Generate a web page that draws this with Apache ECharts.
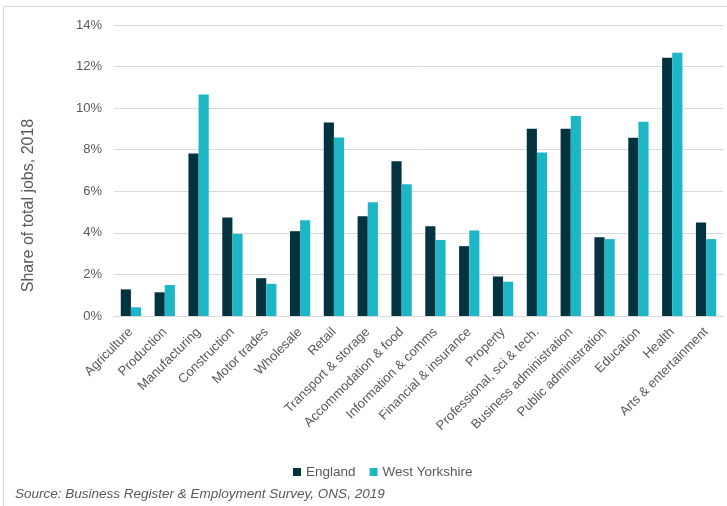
<!DOCTYPE html>
<html>
<head>
<meta charset="utf-8">
<script src="https://cdn.jsdelivr.net/npm/echarts@6/dist/echarts.min.js"></script>
<style>
html,body{margin:0;padding:0;background:#fff;}
#chart{width:727px;height:506px;}
</style>
</head>
<body>
<div id="chart"></div>
<script>
const categories = ["Agriculture","Production","Manufacturing","Construction","Motor trades","Wholesale","Retail","Transport & storage","Accommodation & food","Information & comms","Financial & insurance","Property","Professional, sci & tech.","Business administration","Public administration","Education","Health","Arts & entertainment"];
const england = [1.28,1.14,7.82,4.74,1.82,4.08,9.31,4.8,7.44,4.32,3.36,1.9,9.01,9.01,3.79,8.58,12.42,4.5];
const westYorkshire = [0.42,1.49,10.66,3.95,1.55,4.61,8.59,5.47,6.34,3.66,4.11,1.65,7.87,9.62,3.7,9.34,12.67,3.7];
const yTicks = [0,2,4,6,8,10,12,14];
const sourceText = "Source: Business Register & Employment Survey, ONS, 2019";

const chart = echarts.init(document.getElementById('chart'), null, {renderer:'canvas'});
const txt = '#595959';
const ff = '"Liberation Sans", Arial, sans-serif';
chart.setOption({
  animation:false,
  textStyle:{fontFamily:ff},
  grid:{left:114, right:4, top:25, bottom:190},
  legend:{
    data:['England','West Yorkshire'],
    left:288, top:460,
    icon:'rect', itemWidth:8, itemHeight:8, itemGap:14,
    textStyle:{color:txt, fontSize:13.5, fontFamily:ff}
  },
  graphic:[
    {type:'line', shape:{x1:3.5,y1:6.5,x2:727,y2:6.5}, style:{stroke:'#d9d9d9', lineWidth:1}},
    {type:'line', shape:{x1:3.5,y1:6.5,x2:3.5,y2:506}, style:{stroke:'#d9d9d9', lineWidth:1}},
    {type:'text', left:15, top:487,
     style:{text:sourceText, fill:txt, font:'italic 13.5px ' + ff}}
  ],
  xAxis:{
    type:'category', data:categories,
    axisLine:{lineStyle:{color:'#d9d9d9'}},
    axisTick:{show:false},
    axisLabel:{rotate:45, interval:0, color:txt, fontSize:13, margin:14},
  },
  yAxis:{
    type:'value', min:0, max:14, interval:2,
    name:'Share of total jobs, 2018', nameLocation:'middle', nameGap:77,
    nameTextStyle:{color:txt, fontSize:16, padding:[0,0,0,-70]},
    axisLine:{show:false}, axisTick:{show:false},
    axisLabel:{color:txt, fontSize:13, formatter:v=>yTicks.includes(v)?v+'%':'' , margin:12},
    splitLine:{lineStyle:{color:'#d9d9d9'}}
  },
  series:[
    {name:'England', type:'bar', data:england, barGap:'0%', barCategoryGap:'40%', itemStyle:{color:'#03333F'}},
    {name:'West Yorkshire', type:'bar', data:westYorkshire, itemStyle:{color:'#1CB6C6'}}
  ]
});
</script>
</body>
</html>
